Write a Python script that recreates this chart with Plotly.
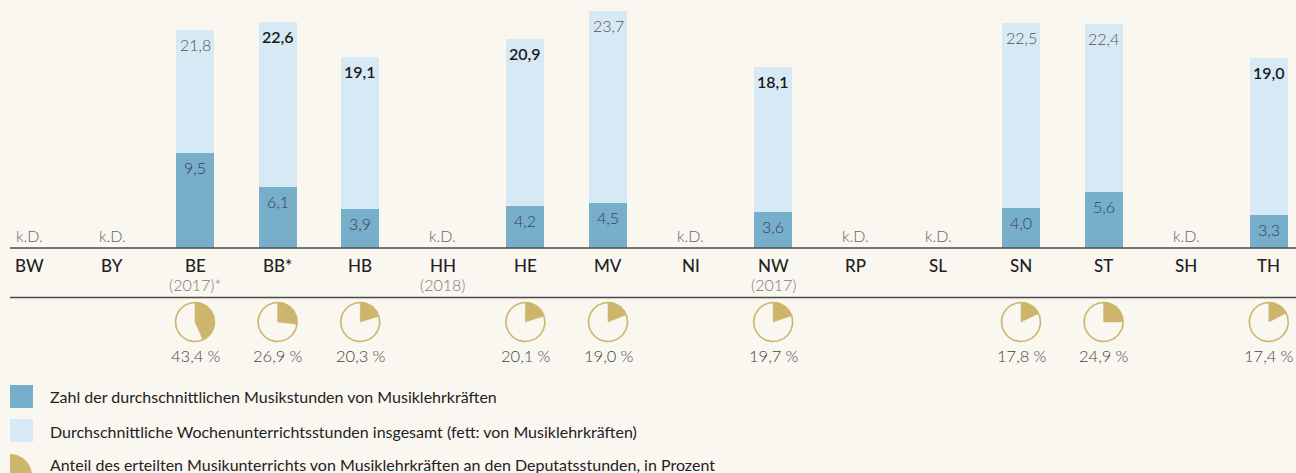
import math
import plotly.graph_objects as go

# ---------------- data ----------------
states = ["BW", "BY", "BE", "BB*", "HB", "HH", "HE", "MV", "NI", "NW", "RP", "SL", "SN", "ST", "SH", "TH"]
years = ["", "", "(2017)*", "", "", "(2018)", "", "", "", "(2017)", "", "", "", "", "", ""]
music_hours = [None, None, 9.5, 6.1, 3.9, None, 4.2, 4.5, None, 3.6, None, None, 4.0, 5.6, None, 3.3]
total_hours = [None, None, 21.8, 22.6, 19.1, None, 20.9, 23.7, None, 18.1, None, None, 22.5, 22.4, None, 19.0]
total_bold = [False, False, False, True, True, False, True, False, False, True, False, False, False, False, False, True]
share_pct = [None, None, 43.4, 26.9, 20.3, None, 20.1, 19.0, None, 19.7, None, None, 17.8, 24.9, None, 17.4]
legend_labels = [
    "Zahl der durchschnittlichen Musikstunden von Musiklehrkräften",
    "Durchschnittliche Wochenunterrichtsstunden insgesamt (fett: von Musiklehrkräften)",
    "Anteil des erteilten Musikunterrichts von Musiklehrkräften an den Deputatsstunden, in Prozent",
]

# ---------------- style ----------------
W, H = 1296, 473
BG = "#f9f7f0"
DARK = "#77aec9"
LIGHT = "#d7e9f5"
GOLD = "#cdb56b"
FONT = "Lato"
UNIT = 82.6            # px per category
X0 = 29.8              # px of first category centre
BASE = 248             # px of baseline
TOP_VAL = 24.8         # value at top of figure

xs = list(range(len(states)))
r0 = -X0 / UNIT
r1 = r0 + W / UNIT

def fx(v):
    return "" if v is None else f"{v:.1f}".replace(".", ",")

fig = go.Figure()

rest = [None if t is None else t - m for t, m in zip(total_hours, music_hours)]
fig.add_trace(go.Bar(x=xs, y=music_hours, marker=dict(color=DARK, line=dict(width=0)),
                     width=0.46, xaxis="x", yaxis="y", showlegend=False, hoverinfo="skip"))
fig.add_trace(go.Bar(x=xs, y=rest, marker=dict(color=LIGHT, line=dict(width=0)),
                     width=0.46, xaxis="x", yaxis="y", showlegend=False, hoverinfo="skip"))

ann = []
for i, s in enumerate(states):
    if total_hours[i] is None:
        ann.append(dict(x=i, y=0, xref="x", yref="y", text="k.D.", showarrow=False,
                        yanchor="bottom", yshift=1,
                        font=dict(family=FONT, size=16, color="#666", weight=300)))
    else:
        b = total_bold[i]
        ann.append(dict(x=i, y=total_hours[i], xref="x", yref="y", text=fx(total_hours[i]),
                        showarrow=False, yanchor="top", yshift=-3,
                        font=dict(family=FONT, size=16, color="#1a1a1a" if b else "#555",
                                  weight=600 if b else 300)))
        ann.append(dict(x=i, y=music_hours[i], xref="x", yref="y", text=fx(music_hours[i]),
                        showarrow=False, yanchor="top", yshift=-3,
                        font=dict(family=FONT, size=16, color="#34434d", weight=300)))
    # category labels (y2 axis in pixel units)
    ann.append(dict(x=i, y=265, xref="x", yref="y2", text=s, showarrow=False, yanchor="middle",
                    font=dict(family=FONT, size=17, color="#222", weight=500)))
    if years[i]:
        ann.append(dict(x=i, y=284, xref="x", yref="y2", text=years[i], showarrow=False,
                        yanchor="middle", font=dict(family=FONT, size=16, color="#777", weight=300)))

# pies (drawn on x axis + pixel y2 axis)
R = 19.5
CY = 322
N = 120
for i, p in enumerate(share_pct):
    if p is None:
        continue
    cx = xs[i]
    th = [2 * math.pi * k / N for k in range(N + 1)]
    fig.add_trace(go.Scatter(x=[cx + R * math.sin(t) / UNIT for t in th],
                             y=[CY - R * math.cos(t) for t in th],
                             mode="lines", fill="toself", fillcolor=BG,
                             line=dict(color=GOLD, width=1.6), xaxis="x", yaxis="y2",
                             showlegend=False, hoverinfo="skip"))
    ang = 2 * math.pi * p / 100
    m = max(2, int(N * p / 100))
    wx = [cx] + [cx + R * math.sin(ang * k / m) / UNIT for k in range(m + 1)] + [cx]
    wy = [CY] + [CY - R * math.cos(ang * k / m) for k in range(m + 1)] + [CY]
    fig.add_trace(go.Scatter(x=wx, y=wy, mode="lines", fill="toself", fillcolor=GOLD,
                             line=dict(color=GOLD, width=0.5), xaxis="x", yaxis="y2",
                             showlegend=False, hoverinfo="skip"))
    ann.append(dict(x=cx, y=356, xref="x", yref="y2", text=fx(p) + "\u202f%", showarrow=False,
                    yanchor="middle", font=dict(family=FONT, size=16.5, color="#444", weight=300)))

# legend
shapes = [
    dict(type="line", xref="paper", yref="y2", x0=10 / W, x1=1, y0=BASE, y1=BASE,
         line=dict(color="#4a4a4a", width=1.5)),
    dict(type="line", xref="paper", yref="y2", x0=10 / W, x1=1, y0=297.5, y1=297.5,
         line=dict(color="#4a4a4a", width=1.5)),
    dict(type="rect", xref="paper", yref="y2", x0=10 / W, x1=33 / W, y0=385, y1=408,
         fillcolor=DARK, line=dict(width=0)),
    dict(type="rect", xref="paper", yref="y2", x0=10 / W, x1=33 / W, y0=419, y1=442,
         fillcolor=LIGHT, line=dict(width=0)),
]
lr, lcx, lcy = 22, 10, 476
pts = [(lcx + lr * math.sin(math.pi * k / 40), lcy - lr * math.cos(math.pi * k / 40)) for k in range(41)]
path = f"M {lcx / W},{lcy} " + " ".join(f"L {px / W},{py}" for px, py in pts) + " Z"
shapes.append(dict(type="path", xref="paper", yref="y2", path=path, fillcolor=GOLD, line=dict(width=0)))
for k, (t, yy) in enumerate(zip(legend_labels, [396, 431, 464])):
    ann.append(dict(x=48 / W, y=yy, xref="paper", yref="y2", text=t, showarrow=False,
                    xanchor="left", yanchor="middle",
                    font=dict(family=FONT, size=16, color="#222", weight=400)))

fig.update_layout(
    width=W, height=H, margin=dict(l=0, r=0, t=0, b=0),
    paper_bgcolor=BG, plot_bgcolor="rgba(0,0,0,0)",
    barmode="stack", bargap=0,
    xaxis=dict(range=[r0, r1], visible=False, fixedrange=True),
    yaxis=dict(range=[0, TOP_VAL], domain=[(H - BASE) / H, 1], visible=False),
    yaxis2=dict(range=[H, 0], domain=[0, 1], visible=False, anchor="x"),
    annotations=ann, shapes=shapes, showlegend=False,
)

fig.write_html(
    "out.html",
    config={"displayModeBar": False},
    post_script="document.body.style.margin='0';document.body.style.overflow='hidden';"
                "document.body.style.background='" + BG + "';",
)
